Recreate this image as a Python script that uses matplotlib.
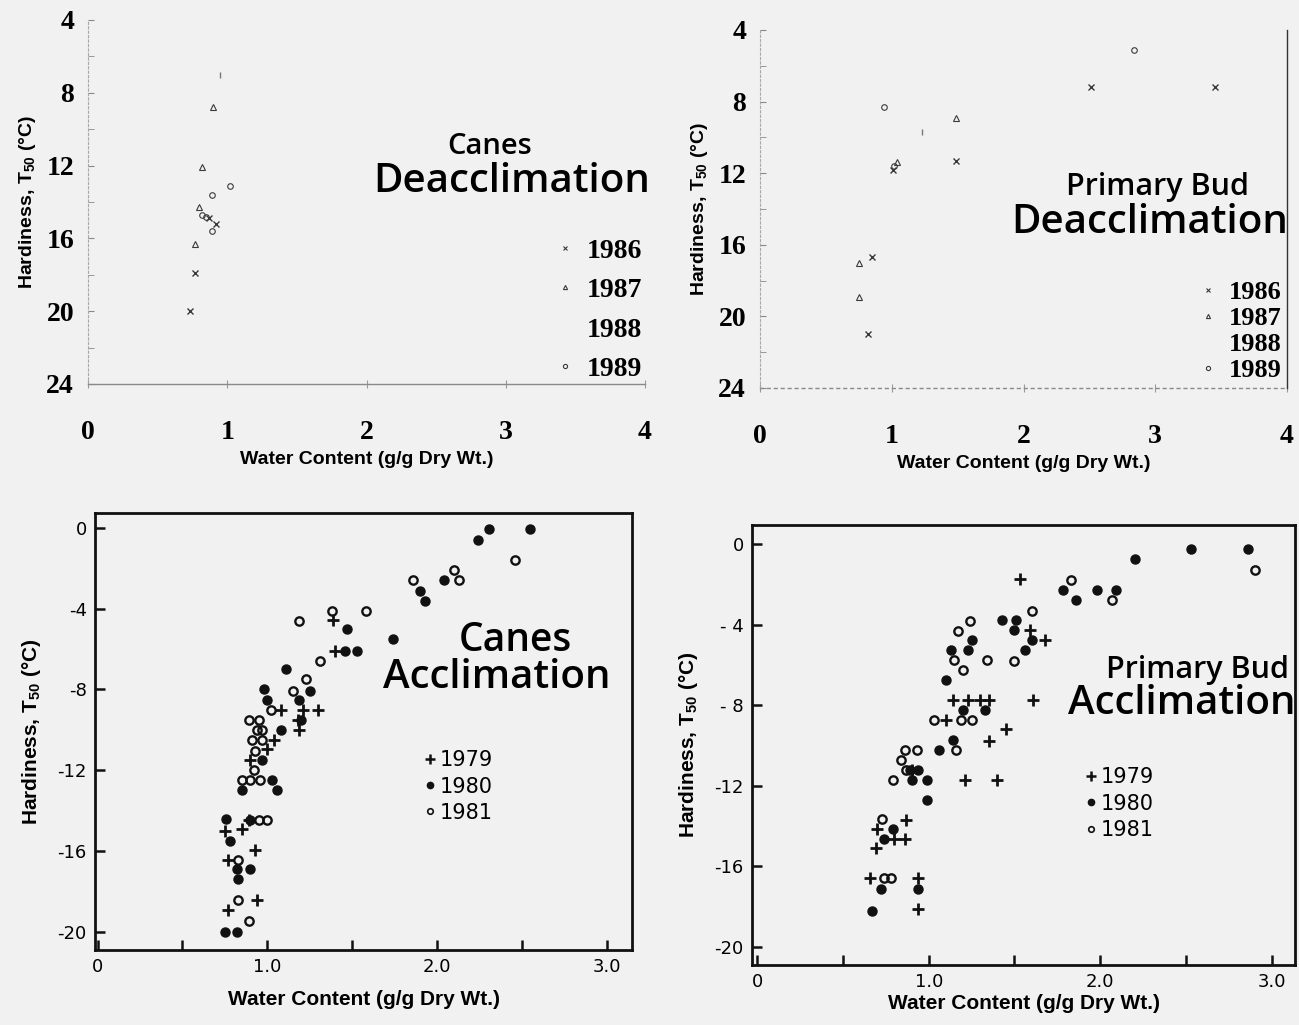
import matplotlib
matplotlib.use("Agg")
import matplotlib.pyplot as plt
from matplotlib.lines import Line2D

plt.rcParams['axes.unicode_minus'] = False
plt.rcParams['mathtext.fontset'] = 'custom'
plt.rcParams['mathtext.rm'] = 'Liberation Sans:bold'
plt.rcParams['mathtext.it'] = 'Liberation Sans:bold'
plt.rcParams['mathtext.bf'] = 'Liberation Sans:bold'

# ---- データ ----
# Canes deacclimation
c86_x = [0.73, 0.77, 0.87, 0.92]
c86_y = [20.0, 17.9, 14.9, 15.2]
c87_x = [0.90, 0.82, 0.80, 0.77]
c87_y = [8.8, 12.1, 14.3, 16.3]
c88_x = [0.95]
c88_y = [7.0]
c89_x = [1.02, 0.89, 0.82, 0.85, 0.89]
c89_y = [13.1, 13.6, 14.7, 14.8, 15.6]

# Primary bud deacclimation
b86_x = [2.51, 3.45, 1.49, 1.01, 0.85, 0.82]
b86_y = [7.2, 7.2, 11.3, 11.8, 16.7, 21.0]
b87_x = [1.49, 1.04, 0.75, 0.75]
b87_y = [8.9, 11.4, 17.0, 18.9]
b88_x = [1.23]
b88_y = [9.7]
b89_x = [2.84, 0.94, 1.02]
b89_y = [5.1, 8.3, 11.6]

# Canes acclimation
ca79_x = [1.39, 1.40, 1.08, 1.21, 1.30, 1.18, 1.19, 1.04, 1.00, 0.90, 0.75, 0.85,
          0.93, 0.77, 0.94, 0.77, 0.89]
ca79_y = [-4.55, -6.1, -9.0, -9.0, -9.0, -9.5, -10.0, -10.5, -10.95, -11.5, -15.0, -14.9,
          -15.95, -16.45, -18.4, -18.9, -14.45]
ca80_x = [2.24, 2.31, 2.55, 2.04, 1.90, 1.93, 1.47, 1.74, 1.46, 1.53, 1.11, 0.98, 1.00,
          1.25, 1.19, 1.08, 1.20, 0.97, 1.03, 1.06, 0.85, 0.76, 0.78, 0.82, 0.83, 0.90,
          0.75, 0.82, 0.90]
ca80_y = [-0.58, -0.07, -0.07, -2.6, -3.1, -3.6, -5.0, -5.5, -6.1, -6.1, -7.0, -8.0, -8.5,
          -8.05, -8.5, -10.0, -9.5, -11.5, -12.5, -13.0, -13.0, -14.4, -15.5, -16.9, -17.4, -16.9,
          -20.0, -20.0, -14.45]
ca81_x = [2.46, 2.10, 2.13, 1.86, 1.38, 1.58, 1.19, 1.31, 1.23, 1.15, 1.02, 0.89, 0.95,
          0.94, 0.97, 0.91, 0.97, 0.93, 0.92, 0.85, 0.90, 0.96, 0.95, 1.00, 0.83, 0.83, 0.89]
ca81_y = [-1.6, -2.1, -2.6, -2.6, -4.1, -4.1, -4.6, -6.6, -7.5, -8.05, -9.0, -9.5, -9.5,
          -10.0, -10.0, -10.5, -10.5, -11.05, -12.0, -12.5, -12.5, -12.5, -14.45, -14.45, -16.45,
          -18.4, -19.45]

# Primary bud acclimation
ba79_x = [1.53, 1.59, 1.68, 1.14, 1.23, 1.30, 1.35, 1.61, 1.10, 1.45, 1.35, 1.21, 1.40,
          0.87, 0.70, 0.80, 0.86, 0.69, 0.66, 0.94, 0.94, 0.90]
ba79_y = [-1.76, -4.27, -4.78, -7.75, -7.75, -7.75, -7.75, -7.75, -8.76, -9.19, -9.78,
          -11.7, -11.7, -13.68, -14.15, -14.64, -14.64, -15.1, -16.6, -16.6, -18.1, -11.2]
ba80_x = [2.53, 2.86, 2.20, 1.78, 1.98, 2.09, 1.86, 1.43, 1.51, 1.50, 1.25, 1.60, 1.13,
          1.23, 1.56, 1.10, 1.33, 1.20, 1.14, 1.06, 0.94, 0.89, 0.90, 0.99, 0.99, 0.79,
          0.74, 0.72, 0.67, 0.94]
ba80_y = [-0.24, -0.24, -0.76, -2.27, -2.27, -2.27, -2.78, -3.8, -3.8, -4.27, -4.75, -4.75,
          -5.25, -5.25, -5.25, -6.73, -8.22, -8.22, -9.75, -10.25, -11.2, -11.2, -11.7, -11.7,
          -12.7, -14.15, -14.66, -17.15, -18.2, -17.15]
ba81_x = [2.90, 1.83, 2.07, 1.60, 1.24, 1.17, 1.15, 1.34, 1.50, 1.20, 1.03, 1.25, 1.19,
          1.16, 0.86, 0.93, 0.84, 0.87, 0.79, 0.73, 0.74, 0.78]
ba81_y = [-1.3, -1.81, -2.78, -3.34, -3.81, -4.3, -5.76, -5.76, -5.8, -6.27, -8.76, -8.76,
          -8.76, -10.25, -10.25, -10.25, -10.7, -11.2, -11.7, -13.64, -16.6, -16.6]

deac_yticks = [4, 8, 12, 16, 20, 24]
deac_xticks = [0, 1, 2, 3, 4]
acc_yticks = [-20, -16, -12, -8, -4, 0]
acc_ylabels_canes = ['-20', '-16', '-12', '-8', '-4', '0']
acc_ylabels_bud = ['-20', '-16', '-12', '- 8', '- 4', '0']
acc_xticks = [0, 1, 2, 3]
acc_xlabels = ['0', '1.0', '2.0', '3.0']

deac_years = ['1986', '1987', '1988', '1989']
acc_years = ['1979', '1980', '1981']

# ---- スタイル ----
BG = '#f1f1f1'
DK = '#3a3a3a'
W, H = 1299, 1025
serif_b = dict(family='Liberation Serif', weight='bold')
title_f = dict(family='Open Sans', weight='semibold')

fig = plt.figure(figsize=(12.99, 10.25), dpi=100, facecolor=BG)


def frac(l, t, r, b):
    return [l / W, 1 - b / H, (r - l) / W, (b - t) / H]


def deac_axes(rect, right_spine):
    ax = fig.add_axes(rect)
    ax.set_facecolor(BG)
    ax.set_xlim(0, 4)
    ax.set_ylim(24, 4)
    for s in ['top', 'right']:
        ax.spines[s].set_visible(False)
    ax.spines['left'].set_color('#a8a8a8')
    ax.spines['left'].set_linestyle((0, (2, 2)))
    ax.spines['left'].set_linewidth(0.8)
    ax.spines['bottom'].set_color('#8a8a8a')
    ax.spines['bottom'].set_linewidth(1.0)
    if right_spine:
        ax.spines['right'].set_visible(True)
        ax.spines['right'].set_color('#333333')
        ax.spines['right'].set_linewidth(1.0)
        ax.spines['bottom'].set_linestyle((0, (2, 3)))
    ax.set_yticks(deac_yticks)
    ax.set_yticks([6, 10, 14, 18, 22], minor=True)
    ax.set_xticks(deac_xticks)
    ax.tick_params(axis='y', which='both', direction='in', length=4, color='#888888',
                   labelsize=20, pad=10)
    ax.tick_params(axis='x', which='both', direction='inout', length=6, color='#999999',
                   labelsize=20, pad=23)
    for lab in ax.get_xticklabels() + ax.get_yticklabels():
        lab.set_fontfamily('Liberation Serif')
        lab.set_fontweight('bold')
    ax.set_xlabel('Water Content (g/g Dry Wt.)', family='Liberation Sans', weight='bold',
                  fontsize=14, labelpad=4)
    ax.set_ylabel('Hardiness, T$_{50}$ (°C)', family='Liberation Sans', weight='bold',
                  fontsize=14, labelpad=6)
    return ax


def deac_plot(ax, xs, ys):
    ax.plot(xs[0], ys[0], ls='', marker='x', ms=4, mec=DK, mew=1.0)
    ax.plot(xs[1], ys[1], ls='', marker='^', ms=4, mfc='none', mec=DK, mew=0.8)
    ax.plot(xs[2], ys[2], ls='', marker='|', ms=5, mec='#777777', mew=1.0)
    ax.plot(xs[3], ys[3], ls='', marker='o', ms=4, mfc='none', mec=DK, mew=0.8)


def deac_legend(ax, anchor, spacing, size):
    handles = [Line2D([], [], ls='', marker='x', ms=3, mec=DK, mew=0.8),
               Line2D([], [], ls='', marker='^', ms=3, mfc='none', mec=DK, mew=0.8),
               Line2D([], [], ls='', marker=''),
               Line2D([], [], ls='', marker='o', ms=3, mfc='none', mec=DK, mew=0.8)]
    ax.legend(handles, deac_years, loc='upper right', bbox_to_anchor=anchor,
              frameon=False, prop=dict(serif_b, size=size), labelspacing=spacing,
              handlelength=0.6, handletextpad=0.5, borderaxespad=0, borderpad=0)


def acc_axes(rect, xlim, ylim, ylabels, xpad):
    ax = fig.add_axes(rect)
    ax.set_facecolor(BG)
    ax.set_xlim(*xlim)
    ax.set_ylim(*ylim)
    for s in ax.spines.values():
        s.set_linewidth(2.0)
        s.set_color('#111111')
    ax.set_yticks(acc_yticks)
    ax.set_yticklabels(ylabels)
    ax.set_xticks(acc_xticks)
    ax.set_xticklabels(acc_xlabels)
    ax.set_xticks([0.5, 1.5, 2.5], minor=True)
    ax.tick_params(which='both', direction='in', length=7, width=1.8, color='#111111',
                   labelsize=13, pad=6)
    ax.set_xlabel('Water Content (g/g Dry Wt.)', family='Liberation Sans', weight='bold',
                  fontsize=15, labelpad=xpad)
    ax.set_ylabel('Hardiness, T$_{50}$ (°C)', family='Liberation Sans', weight='bold',
                  fontsize=15, labelpad=10)
    return ax


def acc_plot(ax, xs, ys):
    ax.plot(xs[0], ys[0], ls='', marker='+', ms=9, mew=2.0, color='#111111')
    ax.plot(xs[1], ys[1], ls='', marker='o', ms=6.5, color='#111111')
    ax.plot(xs[2], ys[2], ls='', marker='o', ms=6, mfc='none', mec='#111111', mew=1.7)


def acc_legend(ax, anchor):
    handles = [Line2D([], [], ls='', marker='+', ms=7, mew=1.8, color='#111111'),
               Line2D([], [], ls='', marker='o', ms=4.5, color='#111111'),
               Line2D([], [], ls='', marker='o', ms=4, mfc='none', mec='#111111', mew=1.2)]
    ax.legend(handles, acc_years, loc='upper left', bbox_to_anchor=anchor,
              frameon=False, prop=dict(family='DejaVu Sans', size=15), labelspacing=0.3,
              handlelength=0.5, handletextpad=0.2, borderaxespad=0, borderpad=0)


# ---- Canes Deacclimation ----
ax1 = deac_axes(frac(88, 20, 645, 384), False)
deac_plot(ax1, [c86_x, c87_x, c88_x, c89_x], [c86_y, c87_y, c88_y, c89_y])
deac_legend(ax1, (0.995, 0.40), 0.5, 20)
fig.text(490 / W, 1 - 147 / H, 'Canes', ha='center', va='center', fontsize=21, **title_f)
fig.text(512 / W, 1 - 182 / H, 'Deacclimation', ha='center', va='center', fontsize=29,
         **title_f)

# ---- Primary Bud Deacclimation ----
ax2 = deac_axes(frac(760, 30, 1287, 388), True)
deac_plot(ax2, [b86_x, b87_x, b88_x, b89_x], [b86_y, b87_y, b88_y, b89_y])
deac_legend(ax2, (0.99, 0.30), 0.1, 19)
fig.text(1158 / W, 1 - 187 / H, 'Primary Bud', ha='center', va='center', fontsize=22,
         **title_f)
fig.text(1150 / W, 1 - 223 / H, 'Deacclimation', ha='center', va='center', fontsize=29,
         **title_f)

# ---- Canes Acclimation ----
ax3 = acc_axes(frac(95, 513, 632, 950), (-0.015, 3.15), (-20.9, 0.74), acc_ylabels_canes, 10)
acc_plot(ax3, [ca79_x, ca80_x, ca81_x], [ca79_y, ca80_y, ca81_y])
acc_legend(ax3, (0.615, 0.457))
fig.text(515 / W, 1 - 641 / H, 'Canes', ha='center', va='center', fontsize=28, **title_f)
fig.text(497 / W, 1 - 678 / H, 'Acclimation', ha='center', va='center', fontsize=29,
         **title_f)

# ---- Primary Bud Acclimation ----
ax4 = acc_axes(frac(752, 525, 1295, 965), (-0.03, 3.135), (-20.9, 0.94), acc_ylabels_bud, 2)
acc_plot(ax4, [ba79_x, ba80_x, ba81_x], [ba79_y, ba80_y, ba81_y])
acc_legend(ax4, (0.615, 0.449))
fig.text(1197 / W, 1 - 670 / H, 'Primary Bud', ha='center', va='center', fontsize=22,
         **title_f)
fig.text(1182 / W, 1 - 704 / H, 'Acclimation', ha='center', va='center', fontsize=29,
         **title_f)

fig.savefig('out.png', dpi=100, facecolor=BG)
